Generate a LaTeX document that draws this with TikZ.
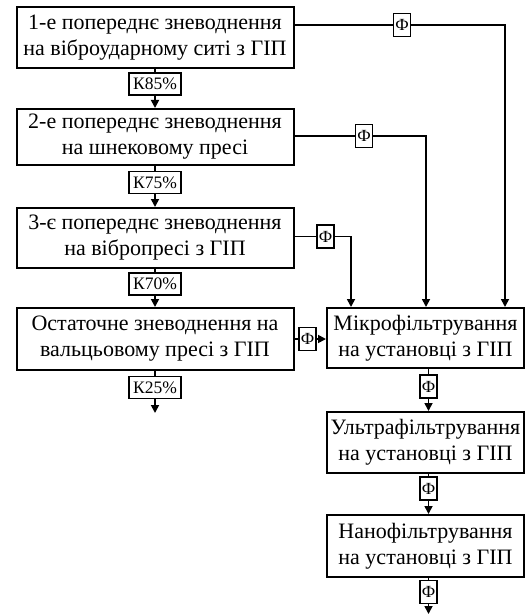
\documentclass[tikz,border=0pt]{standalone}
\usepackage{fontspec}
\setmainfont{Liberation Serif}
\usetikzlibrary{arrows.meta}
\begin{document}
\begin{tikzpicture}[x=1pt,y=-1pt,
  proc/.style={draw, line width=2pt, align=center, inner sep=0pt,
    font=\fontsize{22}{26}\selectfont},
  lbox/.style={draw, line width=1.8pt, inner sep=0pt, minimum height=22pt},
  kbox/.style={lbox, minimum width=52pt, font=\fontsize{17.5}{17.5}\selectfont},
  fbox/.style={lbox, minimum width=17pt, minimum height=23pt, font=\fontsize{17}{17}\selectfont},
  conn/.style={line width=1.7pt},
  arr/.style={conn, -{Triangle[length=8pt,width=8pt]}}]
\useasboundingbox (0,0) rectangle (526,615);
% left column
\node[proc, minimum width=277pt, minimum height=61pt] (b1) at (155,37.5)
  {1-е попереднє зневоднення\\на віброударному ситі з ГІП};
\node[proc, minimum width=277pt, minimum height=56pt] (b2) at (155,137)
  {2-е попереднє зневоднення\\на шнековому пресі};
\node[proc, minimum width=277pt, minimum height=60pt] (b3) at (155,238)
  {3-є попереднє зневоднення\\на вібропресі з ГІП};
\node[proc, minimum width=277pt, minimum height=62pt] (b4) at (155,339)
  {Остаточне зневоднення на\\вальцьовому пресі з ГІП};
% cake labels
\node[kbox] (k1) at (155,84) {К85\%};
\node[kbox] (k2) at (155,182.5) {К75\%};
\node[kbox] (k3) at (155,284) {К70\%};
\node[kbox] (k4) at (155,387.5) {К25\%};
\coordinate (e4) at (155,413);
% right column
\node[proc, minimum width=197pt, minimum height=60pt] (m) at (425.5,338)
  {Мікрофільтрування\\на установці з ГІП};
\node[proc, minimum width=197pt, minimum height=61pt] (u) at (425.5,442.5)
  {Ультрафільтрування\\на установці з ГІП};
\node[proc, minimum width=197pt, minimum height=62pt] (n) at (425.5,546)
  {Нанофільтрування\\на установці з ГІП};
% filtrate labels
\node[fbox] (f1) at (402,25) {Ф};
\node[fbox] (f2) at (364,136) {Ф};
\node[fbox] (f3) at (325.5,236.5) {Ф};
\node[fbox] (f4) at (307.5,339) {Ф};
\node[fbox] (f5) at (428.5,386.5) {Ф};
\node[fbox] (f6) at (428.5,488.5) {Ф};
\node[fbox] (f7) at (428.5,592) {Ф};
\coordinate (c1) at (505,0);
\coordinate (c2) at (426,0);
\coordinate (c3) at (351,0);
\coordinate (e7) at (428.5,614);
% cake flow
\draw[conn] (b1) -- (k1);
\draw[arr] (k1) -- (b2);
\draw[conn] (b2) -- (k2);
\draw[arr] (k2) -- (b3);
\draw[conn] (b3) -- (k3);
\draw[arr] (k3) -- (b4);
\draw[conn] (b4) -- (k4);
\draw[arr] (k4) -- (e4);
% filtrate flow
\draw[conn] (b1.east |- f1) -- (f1);
\draw[arr] (f1) -- (f1 -| c1) -- (c1 |- m.north);
\draw[conn] (b2.east |- f2) -- (f2);
\draw[arr] (f2) -- (f2 -| c2) -- (c2 |- m.north);
\draw[conn] (b3.east |- f3) -- (f3);
\draw[arr] (f3) -- (f3 -| c3) -- (c3 |- m.north);
\draw[conn] (b4.east |- f4) -- (f4);
\draw[arr] (f4) -- (f4 -| m.west);
\draw[conn] (m.south -| f5) -- (f5);
\draw[arr] (f5) -- (f5 |- u.north);
\draw[conn] (u.south -| f6) -- (f6);
\draw[arr] (f6) -- (f6 |- n.north);
\draw[conn] (n.south -| f7) -- (f7);
\draw[arr] (f7) -- (e7);
\end{tikzpicture}
\end{document}
